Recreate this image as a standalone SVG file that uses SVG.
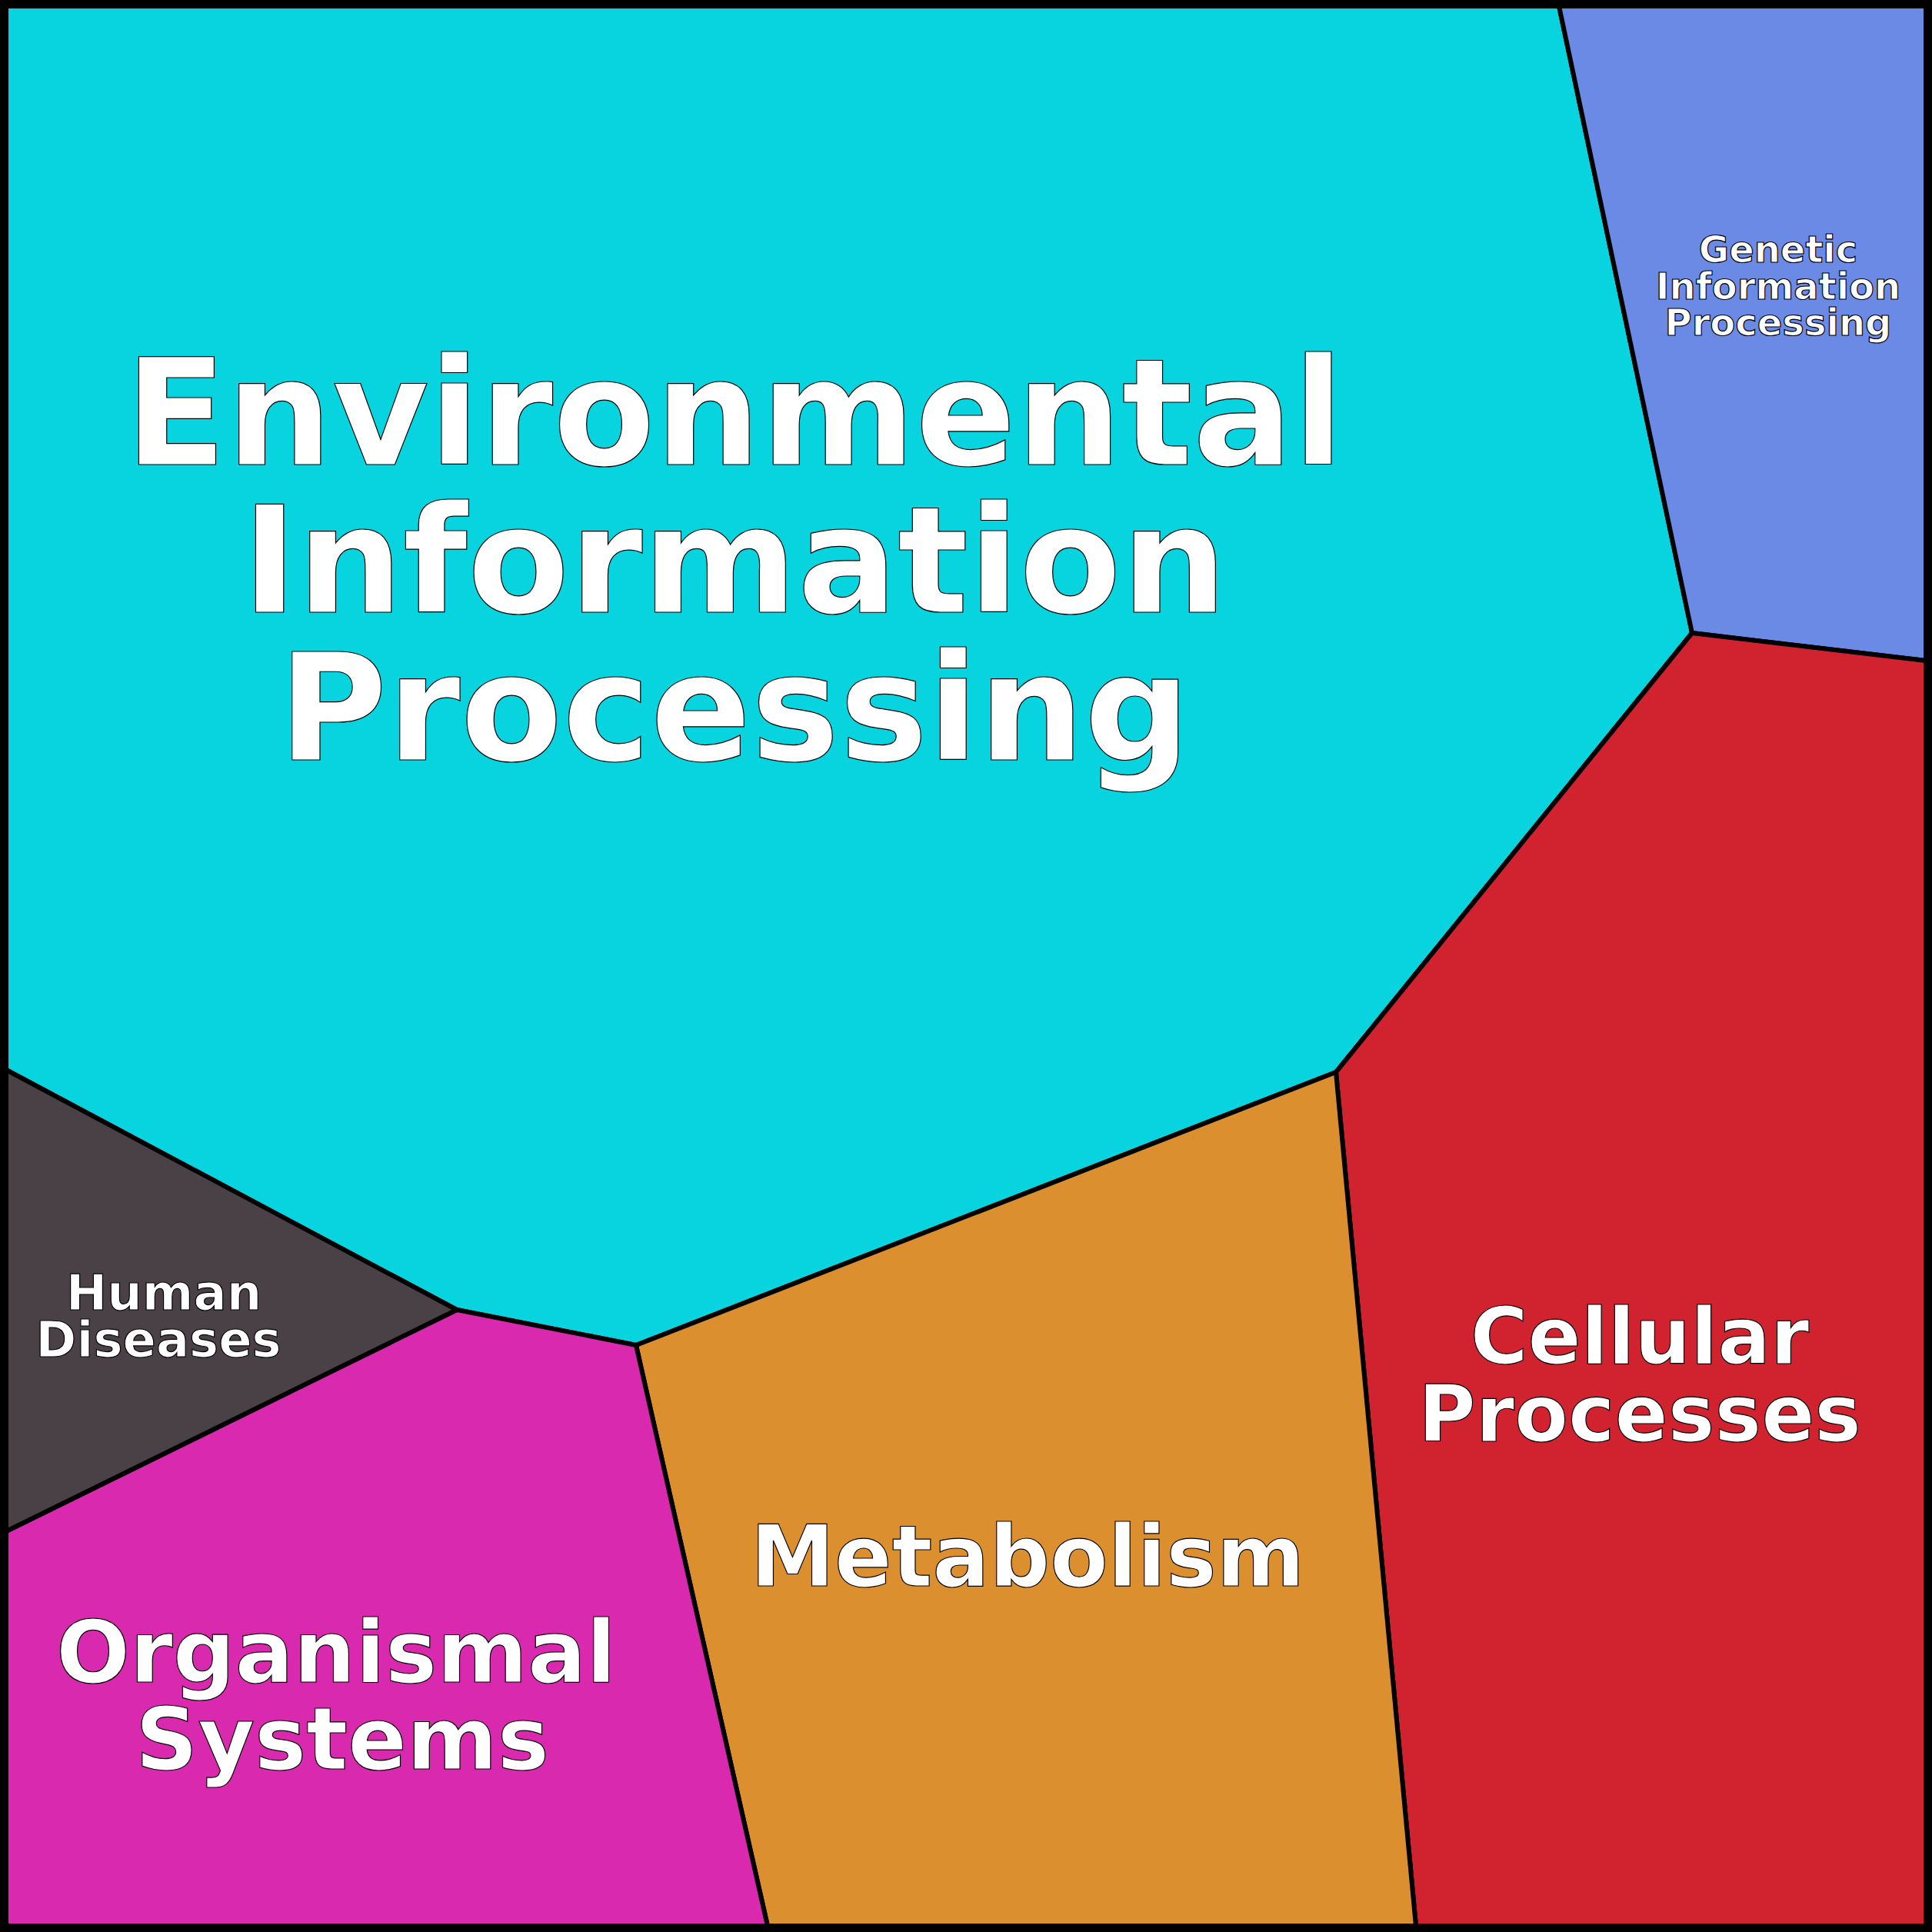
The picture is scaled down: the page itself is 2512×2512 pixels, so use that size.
<svg xmlns="http://www.w3.org/2000/svg" width="2512" height="2512" viewBox="0 0 2512 2512">
<style>
.c{stroke:#000;stroke-width:6;stroke-linejoin:round}
text{font-family:"DejaVu Sans",sans-serif;font-weight:bold;fill:#fff;stroke:#000;stroke-width:1.2;text-anchor:middle}
</style>
<g id="env"><polygon class="c" fill="#07d4de" points="8,8 2027,8 2200,823 1737,1394 827,1749 594,1703 8,1391"/>
<text font-size="193"><tspan x="955" y="604">Environmental</tspan><tspan x="955" y="796">Information</tspan><tspan x="955" y="988">Processing</tspan></text></g>
<g id="genetic"><polygon class="c" fill="#6a8ae6" points="2027,8 2504,8 2504,859 2200,823"/>
<text font-size="48"><tspan x="2312" y="341">Genetic</tspan><tspan x="2312" y="389">Information</tspan><tspan x="2312" y="436">Processing</tspan></text></g>
<g id="cellular"><polygon class="c" fill="#d12230" points="2200,823 2504,859 2504,2504 1841,2504 1737,1394"/>
<text font-size="102"><tspan x="2132" y="1773">Cellular</tspan><tspan x="2132" y="1874">Processes</tspan></text></g>
<g id="metabolism"><polygon class="c" fill="#db8f2f" points="1737,1394 1841,2504 998,2504 827,1749"/>
<text font-size="110" x="1336" y="2062">Metabolism</text></g>
<g id="organismal"><polygon class="c" fill="#d929ae" points="827,1749 998,2504 8,2504 8,1991 594,1703"/>
<text font-size="113"><tspan x="437" y="2187">Organismal</tspan><tspan x="445" y="2300">Systems</tspan></text></g>
<g id="human"><polygon class="c" fill="#4a4147" points="8,1391 594,1703 8,1991"/>
<text font-size="64"><tspan x="213" y="1703">Human</tspan><tspan x="206" y="1764">Diseases</tspan></text></g>
<g id="connectors"><rect x="4" y="4" width="2504" height="2504" fill="none" stroke="#000" stroke-width="8"/></g>
</svg>
